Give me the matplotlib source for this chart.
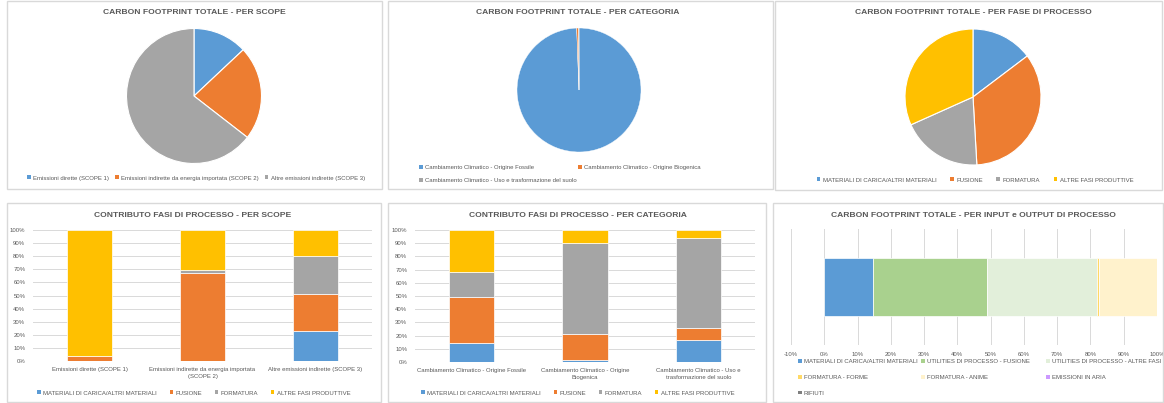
import matplotlib
matplotlib.use("Agg")
import matplotlib.pyplot as plt
from matplotlib.patches import Patch, Rectangle
import numpy as np

# colori stile Excel
BLU = "#5B9BD5"
ARANCIO = "#ED7D31"
GRIGIO = "#A5A5A5"
GIALLO = "#FFC000"
TESTO = "#595959"
GRIGLIA = "#D9D9D9"

# dati
scope_labels = ["Emissioni dirette (SCOPE 1)",
                "Emissioni indirette da energia importata (SCOPE 2)",
                "Altre emissioni indirette (SCOPE 3)"]
scope_values = [13.0, 22.5, 64.5]

cat_labels = ["Cambiamento Climatico - Origine Fossile",
              "Cambiamento Climatico - Origine Biogenica",
              "Cambiamento Climatico - Uso e trasformazione del suolo"]
cat_values = [99.4, 0.55, 0.05]

fasi_labels = ["MATERIALI DI CARICA/ALTRI MATERIALI", "FUSIONE", "FORMATURA",
               "ALTRE FASI PRODUTTIVE"]
fasi_values = [14.7, 34.4, 19.2, 31.7]

scope_ticks = ["Emissioni dirette (SCOPE 1)",
               "Emissioni indirette da energia importata\n(SCOPE 2)",
               "Altre emissioni indirette (SCOPE 3)"]
scope_materiali = [0.0, 0.0, 22.9]
scope_fusione = [4.1, 66.9, 28.2]
scope_formatura = [0.0, 2.8, 29.3]
scope_altre = [95.9, 30.3, 19.6]

cat_ticks = ["Cambiamento Climatico - Origine Fossile",
             "Cambiamento Climatico - Origine\nBiogenica",
             "Cambiamento Climatico - Uso e\ntrasformazione del suolo"]
cat_materiali = [14.7, 1.8, 17.0]
cat_fusione = [34.2, 19.5, 9.1]
cat_formatura = [19.5, 69.1, 67.8]
cat_altre = [31.6, 9.6, 6.1]

io_labels = ["MATERIALI DI CARICA/ALTRI MATERIALI", "UTILITIES DI PROCESSO - FUSIONE",
             "UTILITIES DI PROCESSO - ALTRE FASI", "FORMATURA - FORME",
             "FORMATURA - ANIME", "EMISSIONI IN ARIA", "RIFIUTI"]
io_values = [14.5, 34.3, 33.1, 0.6, 17.4, 0.05, 0.05]
io_colors = [BLU, "#A9D18E", "#E2EFDA", "#FFD966", "#FFF2CC", "#CC99FF", "#7F7F7F"]

plt.rcParams["font.family"] = ["Liberation Sans", "DejaVu Sans"]

W, H = 1164, 403
fig = plt.figure(figsize=(W / 100, H / 100), dpi=100)
fig.patch.set_facecolor("white")


def fx(px):
    return px / W


def fy(py):
    return 1 - py / H


def axes_px(left, top, right, bottom):
    return fig.add_axes([fx(left), fy(bottom), (right - left) / W, (bottom - top) / H])


def cornice(left, top, right, bottom):
    fig.patches.append(Rectangle((fx(left), fy(bottom)), (right - left) / W,
                                 (bottom - top) / H, transform=fig.transFigure,
                                 fill=False, edgecolor=GRIGLIA, linewidth=1))


def titolo(x, y, s):
    fig.text(fx(x), fy(y), s, ha="center", va="center", fontsize=6.1,
             fontweight="bold", color=TESTO)


def legenda(colors, labels, x, y, ncol, loc="center", size=4.3, spacing=1.5,
            rows=1.3):
    handles = [Patch(facecolor=c, edgecolor="none") for c in colors]
    fig.legend(handles, labels, loc=loc, bbox_to_anchor=(fx(x), fy(y)), ncol=ncol,
               frameon=False, fontsize=size, labelcolor=TESTO, handlelength=0.6,
               handleheight=0.6, handletextpad=0.4, columnspacing=spacing,
               borderpad=0, borderaxespad=0, labelspacing=rows)


def torta(cx, cy, r, values, colors, lw=0.8):
    ax = axes_px(cx - r, cy - r, cx + r, cy + r)
    ax.pie(values, colors=colors, startangle=90, counterclock=False,
           wedgeprops=dict(edgecolor="white", linewidth=lw))
    ax.set_xlim(-1, 1)
    ax.set_ylim(-1, 1)
    ax.set_aspect("equal")
    return ax


def barre(ax, ticks, serie):
    x = np.arange(len(ticks))
    bottom = np.zeros(len(ticks))
    for vals, c in zip(serie, [BLU, ARANCIO, GRIGIO, GIALLO]):
        ax.bar(x, vals, 0.4, bottom=bottom, color=c, edgecolor="white",
               linewidth=0.5, zorder=3)
        bottom = bottom + np.array(vals)
    ax.set_xlim(-0.5, len(ticks) - 0.5)
    ax.set_ylim(0, 100)
    ax.set_yticks(range(0, 101, 10))
    ax.set_yticklabels([f"{v}%" for v in range(0, 101, 10)])
    ax.set_xticks(x)
    ax.set_xticklabels(ticks, linespacing=1.6)
    ax.grid(axis="y", color=GRIGLIA, linewidth=0.7, zorder=0)
    for s in ax.spines.values():
        s.set_visible(False)
    ax.tick_params(length=0, labelsize=4.3, labelcolor=TESTO)
    ax.tick_params(axis="y", pad=5.5)
    ax.tick_params(axis="x", pad=4)


# cornici dei pannelli
cornice(7, 1, 382, 189)
cornice(388, 1, 773, 189)
cornice(775, 1, 1162, 190)
cornice(7, 203, 381, 402)
cornice(388, 203, 766, 402)
cornice(773, 203, 1163, 402)

# 1 - per scope
titolo(194, 13, "CARBON FOOTPRINT TOTALE - PER SCOPE")
torta(194, 96, 67.5, scope_values, [BLU, ARANCIO, GRIGIO])
legenda([BLU, ARANCIO, GRIGIO], scope_labels, 196, 178, 3, spacing=1.0)

# 2 - per categoria
titolo(578, 13, "CARBON FOOTPRINT TOTALE - PER CATEGORIA")
torta(579, 90, 62, cat_values, [BLU, ARANCIO, GRIGIO], lw=0.3)
legenda([BLU, GRIGIO], [cat_labels[0], cat_labels[2]], 419, 165, 1, loc="upper left")
legenda([ARANCIO], [cat_labels[1]], 578, 165, 1, loc="upper left")

# 3 - per fase di processo
titolo(973, 13, "CARBON FOOTPRINT TOTALE - PER FASE DI PROCESSO")
torta(973, 97, 68, fasi_values, [BLU, ARANCIO, GRIGIO, GIALLO])
legenda([BLU, ARANCIO, GRIGIO, GIALLO], fasi_labels, 975, 180, 4, spacing=2.3)

# 4 - contributo per scope
titolo(193, 215, "CONTRIBUTO FASI DI PROCESSO - PER SCOPE")
ax4 = axes_px(33, 230, 372, 361)
barre(ax4, scope_ticks, [scope_materiali, scope_fusione, scope_formatura, scope_altre])
legenda([BLU, ARANCIO, GRIGIO, GIALLO], fasi_labels, 194, 393, 4, spacing=2.1)

# 5 - contributo per categoria
titolo(578, 215, "CONTRIBUTO FASI DI PROCESSO - PER CATEGORIA")
ax5 = axes_px(415, 230, 755, 362)
barre(ax5, cat_ticks, [cat_materiali, cat_fusione, cat_formatura, cat_altre])
legenda([BLU, ARANCIO, GRIGIO, GIALLO], fasi_labels, 578, 393, 4, spacing=2.1)

# 6 - per input e output
titolo(973, 215, "CARBON FOOTPRINT TOTALE - PER INPUT e OUTPUT DI PROCESSO")
ax6 = axes_px(791, 229, 1157, 345)
left = 0.0
for v, c in zip(io_values, io_colors):
    ax6.barh(0, v, 0.5, left=left, color=c, edgecolor="white", linewidth=0.5, zorder=3)
    left += v
ax6.set_xlim(-10, 100)
ax6.set_ylim(-0.5, 0.5)
ax6.set_xticks(range(-10, 101, 10))
ax6.set_xticklabels([f"{v}%" for v in range(-10, 101, 10)])
ax6.set_yticks([])
ax6.grid(axis="x", color=GRIGLIA, linewidth=0.7, zorder=0)
for s in ax6.spines.values():
    s.set_visible(False)
ax6.tick_params(length=0, labelsize=4.3, labelcolor=TESTO, pad=5)

legenda([io_colors[0], io_colors[3], io_colors[6]],
        [io_labels[0], io_labels[3], io_labels[6]], 798, 359, 1, loc="upper left",
        rows=1.8)
legenda([io_colors[1], io_colors[4]], [io_labels[1], io_labels[4]], 921, 359, 1,
        loc="upper left", rows=1.8)
legenda([io_colors[2], io_colors[5]], [io_labels[2], io_labels[5]], 1046, 359, 1,
        loc="upper left", rows=1.8)

fig.savefig("out.png", dpi=100, facecolor="white")
